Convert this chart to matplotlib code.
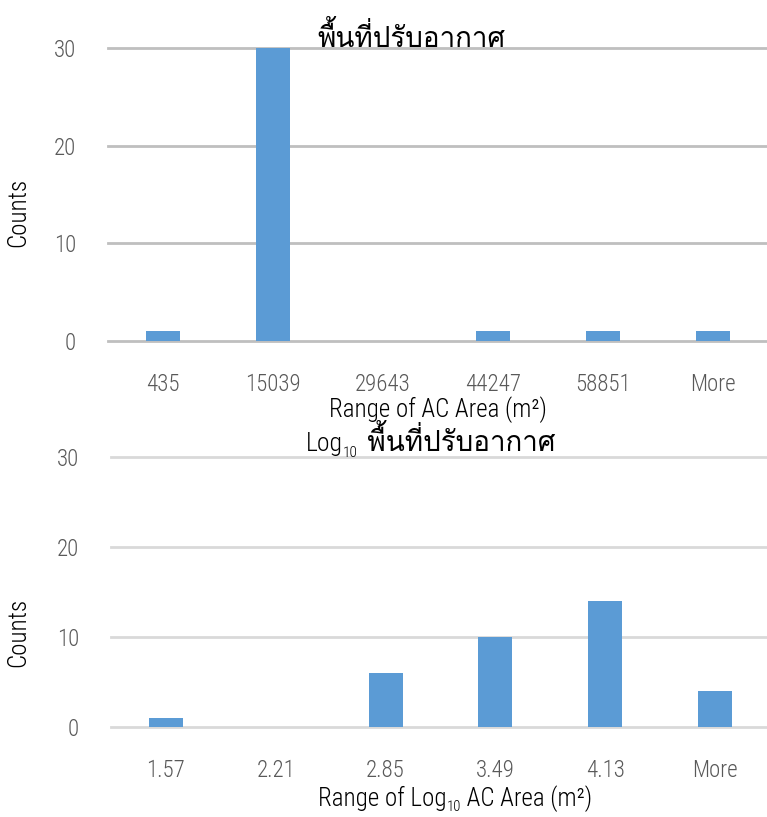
import matplotlib
matplotlib.use("Agg")
import matplotlib.pyplot as plt
import numpy as np

# Histogram of air-conditioned floor area, linear bins
area_bins = ["435", "15039", "29643", "44247", "58851", "More"]
area_counts = [1, 30, 0, 1, 1, 1]

# Histogram of log10 air-conditioned floor area
log_bins = ["1.57", "2.21", "2.85", "3.49", "4.13", "More"]
log_counts = [1, 0, 6, 10, 14, 4]

y_ticks = [0, 10, 20, 30]

BAR = "#5B9BD5"
TICK = "#595959"
LAT = "Roboto Condensed"
THAI = "Loma"
THAI_TITLE = "พื้นที่ปรับอากาศ"
LABEL_SIZE = 18
TICK_SIZE = 16.5

W, H = 767, 817
fig = plt.figure(figsize=(W / 100, H / 100), dpi=100)


def px_axes(left, right, top, bottom):
    return fig.add_axes([left / W, 1 - bottom / H, (right - left) / W, (bottom - top) / H])


def style(ax, cats, vals, grid_color):
    x = np.arange(len(cats))
    ax.bar(x, vals, width=0.31, color=BAR, zorder=3)
    ax.set_xlim(-0.5, len(cats) - 0.5)
    ax.set_ylim(0, 30)
    ax.set_yticks(y_ticks)
    ax.set_xticks(x)
    ax.set_xticklabels(cats)
    for s in ax.spines.values():
        s.set_visible(False)
    for t in y_ticks:
        ax.axhline(t, color=grid_color, lw=2.0, zorder=1, clip_on=False)
    ax.tick_params(length=0, labelsize=TICK_SIZE, labelcolor=TICK, pad=23)
    for lab in ax.get_xticklabels() + ax.get_yticklabels():
        lab.set_family(LAT)
        lab.set_fontweight("light")


def pieces(x0, y0, parts):
    """Draw consecutive text pieces starting at figure pixel (x0, y0 baseline)."""
    fig.canvas.draw()
    r = fig.canvas.get_renderer()
    x = x0
    for txt, fam, size, dy in parts:
        t = fig.text(x / W, 1 - (y0 + dy) / H, txt, family=fam, fontsize=size,
                     va="baseline", ha="left", color="black", fontweight="light")
        bb = t.get_window_extent(renderer=r)
        x += bb.width
    return x


# Top panel
ax1 = px_axes(108, 768, 48, 341)
style(ax1, area_bins, area_counts, "#bfbfbf")
ax1.set_xlabel("Range of AC Area (m²)", family=LAT, fontsize=LABEL_SIZE,
               fontweight="light", labelpad=0)
ax1.set_ylabel("Counts", family=LAT, fontsize=LABEL_SIZE, fontweight="light")
ax1.yaxis.set_label_coords(-0.118, 0.44)
fig.text(411 / W, 1 - 47 / H, THAI_TITLE, family=THAI, fontsize=20,
         ha="center", va="baseline")

# Bottom panel
ax2 = px_axes(111, 770, 457, 727)
style(ax2, log_bins, log_counts, "#d9d9d9")
ax2.set_ylabel("Counts", family=LAT, fontsize=LABEL_SIZE, fontweight="light")
ax2.yaxis.set_label_coords(-0.123, 0.35)

pieces(306, 451, [("Log", LAT, 18.5, 0), ("10", LAT, 11, 6), (" " + THAI_TITLE, [THAI, LAT], 20, 0)])
pieces(318, 806, [("Range of Log", LAT, LABEL_SIZE, 0), ("10", LAT, 10.5, 5), (" AC Area (m²)", LAT, LABEL_SIZE, 0)])

fig.savefig("out.png", dpi=100)
